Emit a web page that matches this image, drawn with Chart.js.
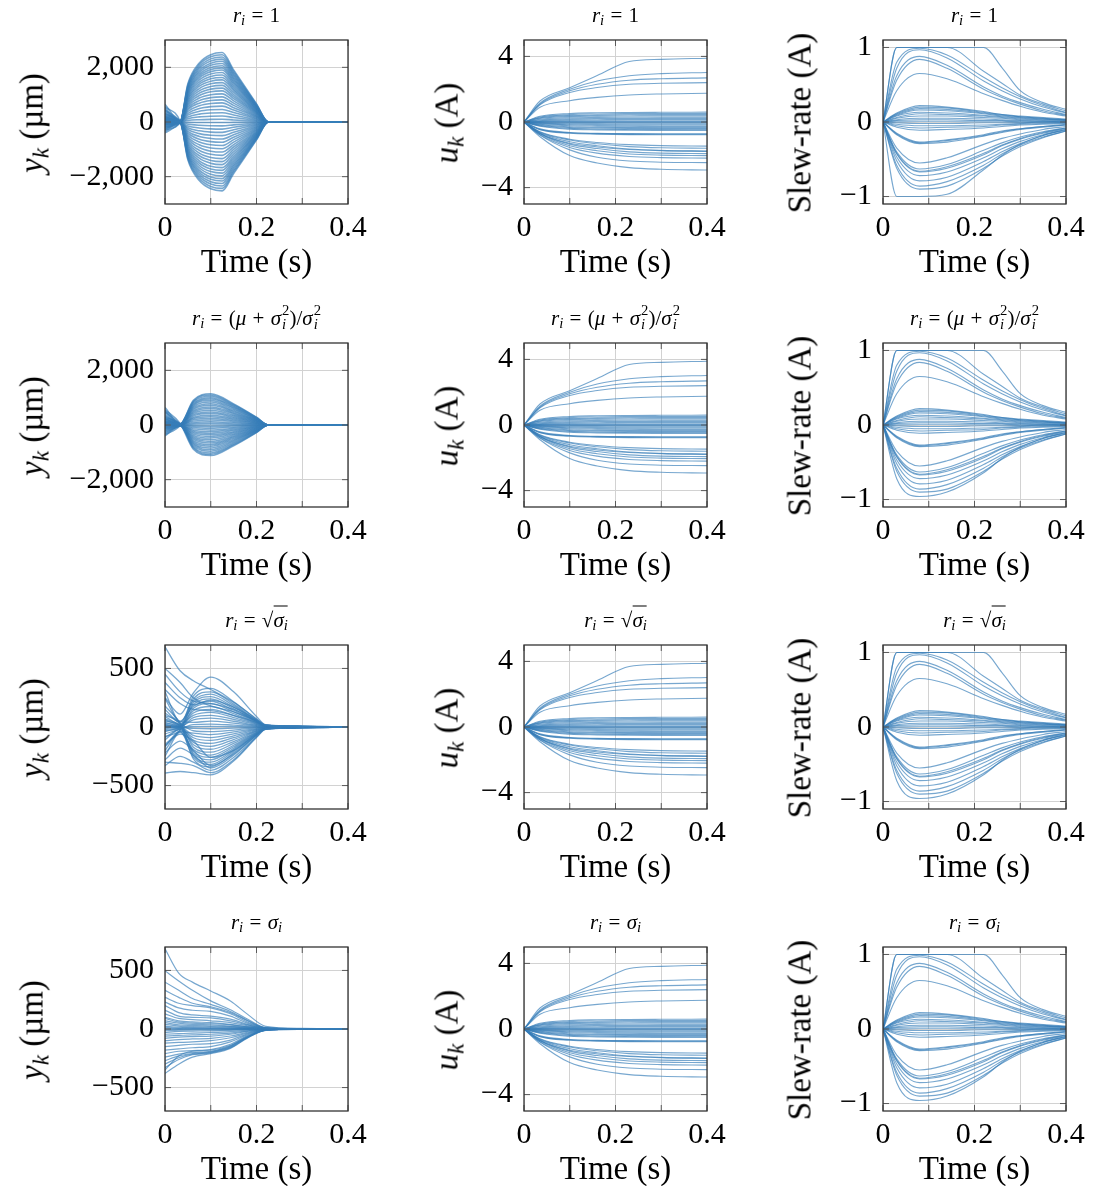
<!DOCTYPE html>
<html>
<head>
<meta charset="utf-8">
<title>Closed-loop responses for four weightings</title>
<script src="https://cdn.jsdelivr.net/npm/chart.js@4.4.1/dist/chart.umd.min.js"></script>
<style>
  html, body { margin:0; padding:0; background:#fff; }
  body { position:relative; width:1094px; height:1186px; overflow:hidden;
         font-family:"Liberation Serif","Times New Roman",serif; color:#000; }
  canvas { position:absolute; }
  .txt { position:absolute; white-space:nowrap; line-height:1; transform:translate(-50%,-50%); }
  .ttl { font-size:21px; }
  .axt { font-size:33px; }
  .rot { transform:translate(-50%,-50%) rotate(-90deg); }
  .op { margin:0 0.3em; }
  sub { font-size:0.7em; vertical-align:-0.25em; line-height:0; }
  .ss { display:inline-block; font-size:0.7em; line-height:0.95; vertical-align:-0.3em; text-align:left; margin-left:1px; }
  .ss span { display:block; }
  .rad { border-top:1px solid #000; padding-top:1px; }
</style>
</head>
<body>
<script>
// ---------- tick values and labels ----------
const xTickValues = [0, 0.1, 0.2, 0.3, 0.4];
const xTickLabels = ['0', '', '0.2', '', '0.4'];
const dispTicksWide = [-2000, 0, 2000];
const dispLabelsWide = ['\u22122,000', '0', '2,000'];
const dispTicksNarrow = [-500, 0, 500];
const dispLabelsNarrow = ['\u2212500', '0', '500'];
const curTicks = [-4, 0, 4];
const curLabels = ['\u22124', '0', '4'];
const slewTicks = [-1, 0, 1];
const slewLabels = ['\u22121', '0', '1'];

// ---------- output y_k (µm), weighting r_i = 1 ----------
const tDispR1 = [0, 0.033, 0.05, 0.075, 0.10, 0.125, 0.15, 0.2, 0.226, 0.4];
const dispR1 = [
  [150, 10, 1397, 2159, 2464, 2540, 1905, 660, 0, 0],
  [-80, -5, 1353, 2091, 2386, 2460, 1845, 640, 0, 0],
  [300, 20, 1309, 2023, 2309, 2380, 1785, 619, 0, 0],
  [40, 0, 1265, 1955, 2231, 2300, 1725, 598, 0, 0],
  [-200, -15, 1221, 1887, 2153, 2220, 1665, 577, 0, 0],
  [90, 5, 1177, 1819, 2076, 2140, 1605, 556, 0, 0],
  [450, 25, 1133, 1751, 1998, 2060, 1545, 536, 0, 0],
  [-30, 0, 1089, 1683, 1921, 1980, 1485, 515, 0, 0],
  [180, 10, 1045, 1615, 1843, 1900, 1425, 494, 0, 0],
  [-120, -10, 996, 1539, 1756, 1810, 1358, 471, 0, 0],
  [60, 5, 946, 1462, 1668, 1720, 1290, 447, 0, 0],
  [650, 30, 897, 1386, 1581, 1630, 1223, 424, 0, 0],
  [-300, -20, 847, 1309, 1494, 1540, 1155, 400, 0, 0],
  [20, 0, 792, 1224, 1397, 1440, 1080, 374, 0, 0],
  [240, 15, 737, 1139, 1300, 1340, 1005, 348, 0, 0],
  [-60, -5, 682, 1054, 1203, 1240, 930, 322, 0, 0],
  [110, 5, 627, 969, 1106, 1140, 855, 296, 0, 0],
  [-180, -10, 567, 876, 999, 1030, 773, 268, 0, 0],
  [380, 20, 506, 782, 892, 920, 690, 239, 0, 0],
  [0, 0, 446, 689, 786, 810, 608, 211, 0, 0],
  [-400, -25, 385, 595, 679, 700, 525, 182, 0, 0],
  [140, 10, 319, 493, 563, 580, 435, 151, 0, 0],
  [-20, 0, 253, 391, 446, 460, 345, 120, 0, 0],
  [520, 25, 187, 289, 330, 340, 255, 88, 0, 0],
  [70, 5, 121, 187, 213, 220, 165, 57, 0, 0],
  [-90, -5, 55, 85, 97, 100, 75, 26, 0, 0],
  [200, 10, -11, -17, -19, -20, -15, -5, 0, 0],
  [-150, -10, -77, -119, -136, -140, -105, -36, 0, 0],
  [30, 0, -143, -221, -252, -260, -195, -68, 0, 0],
  [330, 20, -209, -323, -369, -380, -285, -99, 0, 0],
  [-50, -5, -275, -425, -485, -500, -375, -130, 0, 0],
  [100, 5, -341, -527, -601, -620, -465, -161, 0, 0],
  [-250, -15, -407, -629, -718, -740, -555, -192, 0, 0],
  [50, 0, -473, -731, -834, -860, -645, -224, 0, 0],
  [420, 25, -539, -833, -951, -980, -735, -255, 0, 0],
  [-110, -5, -605, -935, -1067, -1100, -825, -286, 0, 0],
  [160, 10, -671, -1037, -1183, -1220, -915, -317, 0, 0],
  [-350, -20, -737, -1139, -1300, -1340, -1005, -348, 0, 0],
  [10, 0, -798, -1233, -1407, -1450, -1088, -377, 0, 0],
  [270, 15, -858, -1326, -1513, -1560, -1170, -406, 0, 0],
  [-70, -5, -919, -1420, -1620, -1670, -1253, -434, 0, 0],
  [80, 5, -974, -1505, -1717, -1770, -1328, -460, 0, 0],
  [-190, -10, -1029, -1590, -1814, -1870, -1403, -486, 0, 0],
  [560, 30, -1084, -1675, -1911, -1970, -1478, -512, 0, 0],
  [-10, 0, -1139, -1760, -2008, -2070, -1553, -538, 0, 0],
  [130, 5, -1188, -1836, -2095, -2160, -1620, -562, 0, 0],
  [-280, -15, -1238, -1913, -2183, -2250, -1688, -585, 0, 0],
  [210, 10, -1287, -1989, -2270, -2340, -1755, -608, 0, 0],
  [-40, 0, -1337, -2066, -2357, -2430, -1823, -632, 0, 0],
  [60, 5, -1386, -2142, -2444, -2520, -1890, -655, 0, 0]
];

// ---------- output y_k (µm), r_i = (mu + sigma_i^2)/sigma_i^2 ----------
const tDispR2 = [0, 0.033, 0.062, 0.10, 0.15, 0.20, 0.226, 0.4];
const dispR2 = [
  [640, 40, 901, 1140, 775, 285, 0, 0],
  [-120, -10, 869, 1100, 748, 275, 0, 0],
  [300, 25, 830, 1050, 714, 263, 0, 0],
  [80, 5, 790, 1000, 680, 250, 0, 0],
  [-350, -30, 751, 950, 646, 238, 0, 0],
  [180, 15, 711, 900, 612, 225, 0, 0],
  [20, 0, 664, 840, 571, 210, 0, 0],
  [450, 35, 616, 780, 530, 195, 0, 0],
  [-60, -5, 569, 720, 490, 180, 0, 0],
  [250, 20, 521, 660, 449, 165, 0, 0],
  [-200, -20, 474, 600, 408, 150, 0, 0],
  [110, 10, 427, 540, 367, 135, 0, 0],
  [520, 50, 379, 480, 326, 120, 0, 0],
  [-20, 0, 332, 420, 286, 105, 0, 0],
  [160, 10, 284, 360, 245, 90, 0, 0],
  [-280, -25, 237, 300, 204, 75, 0, 0],
  [60, 5, 190, 240, 163, 60, 0, 0],
  [380, 30, 142, 180, 122, 45, 0, 0],
  [-90, -10, 95, 120, 82, 30, 0, 0],
  [0, 0, 47, 60, 41, 15, 0, 0],
  [220, 20, 0, 0, 0, 0, 0, 0],
  [-150, -15, -47, -60, -41, -15, 0, 0],
  [90, 10, -95, -120, -82, -30, 0, 0],
  [-400, -40, -142, -180, -122, -45, 0, 0],
  [330, 30, -190, -240, -163, -60, 0, 0],
  [40, 5, -237, -300, -204, -75, 0, 0],
  [-250, -20, -284, -360, -245, -90, 0, 0],
  [140, 15, -332, -420, -286, -105, 0, 0],
  [-30, 0, -379, -480, -326, -120, 0, 0],
  [480, 45, -427, -540, -367, -135, 0, 0],
  [-100, -10, -474, -600, -408, -150, 0, 0],
  [200, 20, -521, -660, -449, -165, 0, 0],
  [10, 0, -569, -720, -490, -180, 0, 0],
  [-320, -30, -616, -780, -530, -195, 0, 0],
  [120, 10, -664, -840, -571, -210, 0, 0],
  [280, 25, -711, -900, -612, -225, 0, 0],
  [-180, -15, -758, -960, -653, -240, 0, 0],
  [70, 5, -806, -1020, -694, -255, 0, 0],
  [-50, -5, -845, -1070, -728, -268, 0, 0],
  [560, 55, -885, -1120, -762, -280, 0, 0]
];

// ---------- output y_k (µm), r_i = sqrt(sigma_i) ----------
const tDispR3 = [0, 0.033, 0.062, 0.10, 0.15, 0.20, 0.22, 0.3, 0.4];
const dispR3 = [
  [60, 20, 264, 330, 215, 66, 17, 7, 0],
  [-30, -10, 240, 300, 195, 60, 15, 6, 0],
  [150, 40, 224, 280, 182, 56, 14, 6, 0],
  [10, 5, 208, 260, 169, 52, 13, 5, 0],
  [-80, -25, 192, 240, 156, 48, 12, 5, 0],
  [240, 50, 176, 220, 143, 44, 11, 4, 0],
  [0, 0, 160, 200, 130, 40, 10, 4, 0],
  [40, 10, 140, 175, 114, 35, 9, 4, 0],
  [-150, -30, 120, 150, 98, 30, 8, 3, 0],
  [90, 25, 100, 125, 81, 25, 6, 3, 0],
  [-20, -5, 80, 100, 65, 20, 5, 2, 0],
  [20, 5, 60, 75, 49, 15, 4, 2, 0],
  [300, 45, 40, 50, 33, 10, 3, 1, 0],
  [-60, -15, 20, 25, 16, 5, 1, 1, 0],
  [5, 0, 4, 5, 3, 1, 0, 0, 0],
  [-10, -5, -12, -15, -10, -3, -1, 0, 0],
  [120, 30, -32, -40, -26, -8, -2, -1, 0],
  [-200, -40, -52, -65, -42, -13, -3, -1, 0],
  [30, 10, -72, -90, -59, -18, -5, -2, 0],
  [-40, -10, -92, -115, -75, -23, -6, -2, 0],
  [70, 15, -112, -140, -91, -28, -7, -3, 0],
  [-110, -20, -132, -165, -107, -33, -8, -3, 0],
  [180, 35, -152, -190, -124, -38, -10, -4, 0],
  [-5, 0, -172, -215, -140, -43, -11, -4, 0],
  [-250, -45, -192, -240, -156, -48, -12, -5, 0],
  [50, 10, -208, -260, -169, -52, -13, -5, 0],
  [-90, -20, -224, -280, -182, -56, -14, -6, 0],
  [15, 5, -240, -300, -195, -60, -15, -6, 0],
  [-170, -35, -256, -320, -208, -64, -16, -6, 0],
  [100, 25, -272, -340, -221, -68, -17, -7, 0],
  [684, 480, 395, 320, 210, 70, 15, 5, 0],
  [500, 380, 250, 180, 130, 50, 10, 4, 0],
  [450, 300, 220, 200, 150, 50, 10, 3, 0],
  [380, 250, 190, 230, 170, 60, 12, 4, 0],
  [320, 200, 150, 140, 100, 40, 8, 3, 0],
  [250, 110, 290, 426, 300, 90, 20, 6, 0],
  [-160, -60, -120, -260, -200, -60, -10, -3, 0],
  [-220, -120, -200, -330, -230, -70, -12, -4, 0],
  [-280, -180, -240, -350, -240, -70, -15, -4, 0],
  [-300, -310, -330, -390, -280, -85, -18, -5, 0],
  [-330, -250, -300, -370, -260, -80, -15, -5, 0],
  [-393, -380, -390, -408, -290, -90, -20, -6, 0]
];

// ---------- output y_k (µm), r_i = sigma_i ----------
const tDispR4 = [0, 0.03, 0.06, 0.10, 0.143, 0.18, 0.22, 0.3, 0.4];
const dispR4 = [
  [684, 477, 400, 325, 239, 127, 23, 5, 0],
  [497, 410, 330, 240, 165, 85, 12, 3, 0],
  [400, 330, 260, 210, 150, 75, 10, 2, 0],
  [330, 270, 220, 190, 140, 70, 9, 2, 0],
  [270, 220, 200, 180, 130, 60, 8, 2, 0],
  [230, 180, 160, 150, 110, 50, 7, 2, 0],
  [200, 140, 120, 110, 85, 40, 6, 1, 0],
  [160, 110, 100, 95, 70, 35, 5, 1, 0],
  [130, 90, 80, 70, 55, 28, 4, 1, 0],
  [100, 70, 60, 55, 40, 20, 3, 1, 0],
  [90, 60, 50, 45, 35, 18, 3, 1, 0],
  [70, 50, 40, 35, 25, 14, 2, 0, 0],
  [55, 35, 30, 25, 20, 10, 2, 0, 0],
  [40, 25, 20, 18, 14, 8, 1, 0, 0],
  [25, 15, 12, 10, 8, 5, 1, 0, 0],
  [15, 8, 6, 5, 4, 3, 0, 0, 0],
  [5, 3, 2, 2, 2, 1, 0, 0, 0],
  [-5, -3, -2, -2, -2, -1, 0, 0, 0],
  [-15, -10, -8, -7, -6, -3, 0, 0, 0],
  [-30, -20, -18, -16, -12, -6, -1, 0, 0],
  [-45, -40, -35, -30, -22, -10, -2, 0, 0],
  [-60, -55, -50, -45, -35, -16, -3, -1, 0],
  [-80, -70, -65, -60, -45, -20, -3, -1, 0],
  [-100, -90, -85, -80, -60, -28, -4, -1, 0],
  [-120, -115, -110, -100, -75, -35, -5, -1, 0],
  [-150, -140, -130, -125, -95, -42, -6, -1, 0],
  [-180, -170, -160, -150, -110, -50, -7, -2, 0],
  [-210, -190, -185, -175, -130, -58, -8, -2, 0],
  [-240, -215, -200, -190, -145, -65, -9, -2, 0],
  [-270, -230, -210, -195, -150, -70, -10, -2, 0],
  [-300, -245, -215, -200, -155, -72, -10, -2, 0],
  [-330, -260, -220, -205, -160, -75, -11, -3, 0],
  [-379, -300, -240, -210, -165, -78, -12, -3, 0],
  [-350, -230, -190, -180, -140, -65, -10, -2, 0]
];

// ---------- coil current u_k (A) ----------
const tCur = [0, 0.035, 0.1, 0.16, 0.23, 0.3, 0.4];
const current = [
  [0, 1.28, 2.09, 2.83, 3.69, 3.82, 3.89],
  [0, 1.15, 2.0, 2.5, 2.82, 2.95, 3.02],
  [0, 1.1, 1.9, 2.3, 2.55, 2.64, 2.69],
  [0, 1.05, 1.8, 2.1, 2.3, 2.36, 2.4],
  [0, 0.9, 1.3, 1.5, 1.65, 1.71, 1.75],
  [0, 0.35, 0.52, 0.56, 0.58, 0.59, 0.6],
  [0, 0.3, 0.45, 0.49, 0.51, 0.52, 0.52],
  [0, 0.26, 0.39, 0.42, 0.44, 0.45, 0.45],
  [0, 0.22, 0.33, 0.36, 0.37, 0.38, 0.38],
  [0, 0.17, 0.26, 0.28, 0.29, 0.3, 0.3],
  [0, 0.12, 0.19, 0.21, 0.21, 0.22, 0.22],
  [0, 0.08, 0.13, 0.14, 0.15, 0.15, 0.15],
  [0, 0.04, 0.07, 0.08, 0.08, 0.08, 0.08],
  [0, 0.02, 0.03, 0.03, 0.03, 0.03, 0.03],
  [0, -0.01, -0.02, -0.02, -0.02, -0.02, -0.02],
  [0, -0.04, -0.07, -0.07, -0.08, -0.08, -0.08],
  [0, -0.07, -0.12, -0.13, -0.14, -0.14, -0.14],
  [0, -0.1, -0.17, -0.19, -0.2, -0.2, -0.2],
  [0, -0.14, -0.23, -0.25, -0.26, -0.27, -0.27],
  [0, -0.17, -0.29, -0.32, -0.33, -0.34, -0.34],
  [0, -0.2, -0.34, -0.37, -0.39, -0.4, -0.4],
  [0, -0.23, -0.39, -0.43, -0.45, -0.46, -0.46],
  [0, -0.26, -0.44, -0.48, -0.5, -0.51, -0.52],
  [0, -0.42, -0.64, -0.69, -0.71, -0.72, -0.72],
  [0, -0.45, -0.66, -0.71, -0.74, -0.75, -0.75],
  [0, -0.47, -0.69, -0.74, -0.77, -0.78, -0.78],
  [0, -0.6, -1.05, -1.25, -1.38, -1.44, -1.47],
  [0, -0.62, -1.1, -1.33, -1.5, -1.57, -1.6],
  [0, -0.65, -1.2, -1.45, -1.65, -1.73, -1.77],
  [0, -0.7, -1.3, -1.52, -1.68, -1.75, -1.79],
  [0, -0.7, -1.35, -1.62, -1.82, -1.9, -1.93],
  [0, -0.72, -1.45, -1.75, -1.95, -2.02, -2.05],
  [0, -0.78, -1.55, -1.9, -2.1, -2.17, -2.2],
  [0, -0.8, -1.7, -2.15, -2.38, -2.45, -2.48],
  [0, -0.9, -2.05, -2.5, -2.78, -2.88, -2.93]
];

// ---------- slew rate (A) ----------
const tSlew = [0, 0.03, 0.08, 0.14, 0.22, 0.26, 0.3, 0.35, 0.4];
const slew = [
  [0, 1, 1, 1, 1, 0.73, 0.42, 0.26, 0.17],
  [0, 1, 1, 1, 0.68, 0.52, 0.36, 0.24, 0.15],
  [0, 0.8, 0.99, 0.9, 0.6, 0.46, 0.34, 0.22, 0.13],
  [0, 0.72, 0.97, 0.86, 0.55, 0.42, 0.31, 0.2, 0.12],
  [0, 0.62, 0.88, 0.76, 0.47, 0.35, 0.26, 0.17, 0.1],
  [0, 0.56, 0.84, 0.72, 0.44, 0.33, 0.24, 0.15, 0.09],
  [0, 0.42, 0.65, 0.58, 0.38, 0.29, 0.21, 0.13, 0.08],
  [0, 0.12, 0.22, 0.2, 0.14, 0.1, 0.08, 0.06, 0.04],
  [0, 0.11, 0.2, 0.19, 0.13, 0.1, 0.07, 0.05, 0.03],
  [0, 0.1, 0.18, 0.17, 0.12, 0.09, 0.07, 0.05, 0.03],
  [0, 0.09, 0.16, 0.15, 0.11, 0.08, 0.06, 0.04, 0.03],
  [0, 0.08, 0.13, 0.12, 0.09, 0.07, 0.05, 0.04, 0.02],
  [0, 0.06, 0.11, 0.1, 0.08, 0.06, 0.04, 0.03, 0.02],
  [0, 0.05, 0.08, 0.08, 0.06, 0.05, 0.03, 0.02, 0.01],
  [0, 0.03, 0.05, 0.05, 0.04, 0.03, 0.02, 0.01, 0.01],
  [0, 0.02, 0.03, 0.03, 0.02, 0.02, 0.01, 0.01, 0],
  [0, 0.01, 0.01, 0.01, 0.01, 0.01, 0, 0, 0],
  [0, -0.01, -0.02, -0.02, -0.01, -0.01, -0.01, 0, 0],
  [0, -0.03, -0.05, -0.05, -0.04, -0.03, -0.02, -0.01, -0.01],
  [0, -0.05, -0.08, -0.07, -0.06, -0.04, -0.03, -0.02, -0.01],
  [0, -0.07, -0.11, -0.1, -0.08, -0.06, -0.04, -0.03, -0.02],
  [0, -0.16, -0.28, -0.25, -0.18, -0.13, -0.09, -0.06, -0.04],
  [0, -0.17, -0.29, -0.27, -0.19, -0.14, -0.1, -0.07, -0.04],
  [0, -0.15, -0.27, -0.24, -0.17, -0.12, -0.09, -0.06, -0.03],
  [0, -0.35, -0.55, -0.48, -0.3, -0.22, -0.16, -0.1, -0.06],
  [0, -0.4, -0.63, -0.57, -0.38, -0.28, -0.2, -0.13, -0.08],
  [0, -0.42, -0.66, -0.6, -0.42, -0.31, -0.22, -0.14, -0.08],
  [0, -0.43, -0.67, -0.62, -0.44, -0.32, -0.23, -0.15, -0.09],
  [0, -0.47, -0.72, -0.67, -0.48, -0.36, -0.26, -0.17, -0.1],
  [0, -0.52, -0.79, -0.74, -0.53, -0.4, -0.29, -0.18, -0.11],
  [0, -0.58, -0.86, -0.8, -0.58, -0.43, -0.31, -0.2, -0.12],
  [0, -0.62, -0.9, -0.86, -0.62, -0.46, -0.33, -0.21, -0.12]
];
// lowest slew trajectory: saturated at -1 for r_i = 1, unsaturated otherwise
const slewLowR1 = [0, -1, -1, -0.97, -0.64, -0.45, -0.3, -0.18, -0.1];
const slewLowOther = [0, -0.72, -0.96, -0.9, -0.64, -0.45, -0.3, -0.18, -0.1];

// ---------- text ----------
const EQ = '<span class="op">=</span>';
const PL = '<span class="op">+</span>';
const W2 = '<span class="ss"><span>2</span><span><i>i</i></span></span>';
const rowTitles = [
  '<i>r</i><sub><i>i</i></sub>' + EQ + '1',
  '<i>r</i><sub><i>i</i></sub>' + EQ + '(<i>\u03bc</i>' + PL + '<i>\u03c3</i>' + W2 + ')/<i>\u03c3</i>' + W2,
  '<i>r</i><sub><i>i</i></sub>' + EQ + '\u221a<span class="rad"><i>\u03c3</i><sub><i>i</i></sub></span>',
  '<i>r</i><sub><i>i</i></sub>' + EQ + '<i>\u03c3</i><sub><i>i</i></sub>'
];
const yTitles = ['<i>y</i><sub><i>k</i></sub> (\u00b5m)', '<i>u</i><sub><i>k</i></sub> (A)', 'Slew-rate (A)'];
const xTitle = 'Time (s)';

// ---------- layout ----------
const FONT = '"Liberation Serif", "Times New Roman", serif';
const LINE = 'rgba(55, 126, 184, 0.68)';
const GRID = '#d2d2d2';
const COL_X = [165, 524, 883];
const ROW_Y = [40, 343, 645, 947];
const PLOT_W = 183, PLOT_H = 164;
const PAD_L = 120, PAD_T = 36, PAD_R = 28, PAD_B = 48;
const Y_TITLE_X = [32, 447, 800];

const axisFrame = {
  id: 'axisFrame',
  afterDatasetsDraw(chart) {
    const { ctx, chartArea: a, scales } = chart;
    ctx.save();
    ctx.strokeStyle = '#5a5a5a';
    ctx.lineWidth = 1;
    ctx.beginPath();
    scales.x.ticks.forEach(tk => {
      const px = scales.x.getPixelForValue(tk.value);
      ctx.moveTo(px, a.top); ctx.lineTo(px, a.top + 6);
      ctx.moveTo(px, a.bottom); ctx.lineTo(px, a.bottom - 6);
    });
    scales.y.ticks.forEach(tk => {
      const py = scales.y.getPixelForValue(tk.value);
      ctx.moveTo(a.left, py); ctx.lineTo(a.left + 6, py);
      ctx.moveTo(a.right, py); ctx.lineTo(a.right - 6, py);
    });
    ctx.stroke();
    ctx.strokeStyle = '#333';
    ctx.lineWidth = 1.3;
    ctx.strokeRect(a.left, a.top, a.right - a.left, a.bottom - a.top);
    ctx.restore();
  }
};

function addText(html, cls, x, y) {
  const d = document.createElement('div');
  d.className = 'txt ' + cls;
  d.innerHTML = html;
  d.style.left = x + 'px';
  d.style.top = y + 'px';
  document.body.appendChild(d);
}

function makePanel(row, col, p) {
  const cv = document.createElement('canvas');
  const w = PAD_L + PLOT_W + PAD_R, h = PAD_T + PLOT_H + PAD_B;
  cv.width = w; cv.height = h;
  cv.style.left = (COL_X[col] - PAD_L) + 'px';
  cv.style.top = (ROW_Y[row] - PAD_T) + 'px';
  cv.style.width = w + 'px'; cv.style.height = h + 'px';
  document.body.appendChild(cv);

  const datasets = p.series.map(vals => ({
    data: vals.map((v, i) => ({ x: p.t[i], y: v })),
    borderColor: LINE,
    borderWidth: p.width || 1.1,
    pointRadius: 0,
    fill: false,
    cubicInterpolationMode: 'monotone'
  }));

  new Chart(cv, {
    type: 'line',
    data: { datasets },
    options: {
      responsive: false, animation: false, devicePixelRatio: 1, events: [],
      layout: { padding: { left: 0, top: PAD_T, right: PAD_R, bottom: 0 } },
      plugins: { legend: { display: false }, tooltip: { enabled: false } },
      scales: {
        x: {
          type: 'linear', min: 0, max: 0.4,
          afterBuildTicks: s => { s.ticks = xTickValues.map(v => ({ value: v })); },
          afterFit: s => { s.height = PAD_B; },
          ticks: { autoSkip: false, maxRotation: 0, padding: 6, color: '#000',
                   font: { family: FONT, size: 30 }, callback: (v, i) => xTickLabels[i] },
          grid: { color: GRID, lineWidth: 1, drawTicks: false },
          border: { display: false }
        },
        y: {
          type: 'linear', min: -p.lim, max: p.lim,
          afterBuildTicks: s => { s.ticks = p.ticks.map(v => ({ value: v })); },
          afterFit: s => { s.width = PAD_L; },
          ticks: { autoSkip: false, padding: 11, color: '#000',
                   font: { family: FONT, size: 30 }, callback: (v, i) => p.labels[i] },
          grid: { color: GRID, lineWidth: 1, drawTicks: false },
          border: { display: false }
        }
      }
    },
    plugins: [axisFrame]
  });

  const cx = COL_X[col] + PLOT_W / 2;
  const cy = ROW_Y[row] + PLOT_H / 2;
  addText(rowTitles[row], 'ttl', cx, ROW_Y[row] - 25);
  addText(yTitles[col], 'axt rot', Y_TITLE_X[col], cy + 1);
  addText(xTitle, 'axt', cx, ROW_Y[row] + PLOT_H + 57);
}

const dispPanels = [
  { t: tDispR1, series: dispR1, lim: 3000, ticks: dispTicksWide, labels: dispLabelsWide, width: 1.6 },
  { t: tDispR2, series: dispR2, lim: 3000, ticks: dispTicksWide, labels: dispLabelsWide, width: 1.5 },
  { t: tDispR3, series: dispR3, lim: 700, ticks: dispTicksNarrow, labels: dispLabelsNarrow, width: 1.3 },
  { t: tDispR4, series: dispR4, lim: 700, ticks: dispTicksNarrow, labels: dispLabelsNarrow, width: 1.2 }
];

for (let r = 0; r < 4; r++) {
  makePanel(r, 0, dispPanels[r]);
  makePanel(r, 1, { t: tCur, series: current, lim: 5, ticks: curTicks, labels: curLabels });
  makePanel(r, 2, { t: tSlew, series: slew.concat([r === 0 ? slewLowR1 : slewLowOther]),
                    lim: 1.1, ticks: slewTicks, labels: slewLabels });
}
</script>
</body>
</html>
